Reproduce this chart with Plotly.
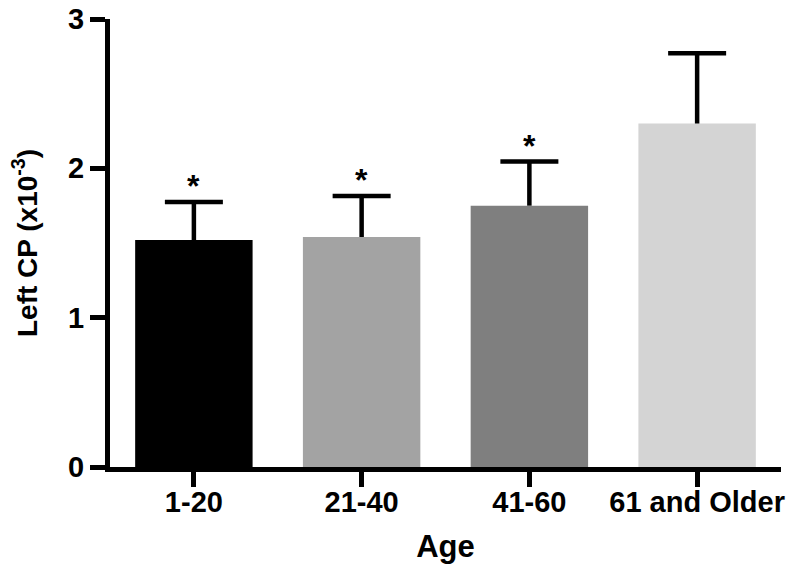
import plotly.graph_objects as go

categories = ["1-20", "21-40", "41-60", "61 and Older"]
means = [1.52, 1.54, 1.75, 2.30]
errors = [0.255, 0.275, 0.295, 0.47]
colors = ["#000000", "#a3a3a3", "#7f7f7f", "#d4d4d4"]
significant = [True, True, True, False]

FONT = "Liberation Sans, Arial, sans-serif"
tops = [m + e for m, e in zip(means, errors)]

fig = go.Figure()
# bars with the upward stem of the error bar (no caps)
fig.add_trace(go.Bar(
    x=categories,
    y=means,
    marker=dict(color=colors, line=dict(width=0)),
    width=0.7,
    error_y=dict(type="data", symmetric=False, array=errors,
                 arrayminus=[0] * len(errors), color="black",
                 thickness=4.5, width=0),
    showlegend=False,
    hoverinfo="skip",
))
# caps only at the top of each error bar
fig.add_trace(go.Scatter(
    x=categories,
    y=tops,
    mode="markers",
    marker=dict(size=1, color="rgba(0,0,0,0)"),
    error_y=dict(type="data", symmetric=True, array=[0] * len(tops),
                 color="black", thickness=4.5, width=29),
    showlegend=False,
    hoverinfo="skip",
))

for cat, t, s in zip(categories, tops, significant):
    if s:
        fig.add_annotation(x=cat, y=t, text="*", showarrow=False,
                           yanchor="bottom", yshift=-4,
                           font=dict(family=FONT, size=32, color="black", weight="bold"))

fig.update_layout(
    width=799, height=576,
    margin=dict(l=110, r=18, t=19, b=109),
    plot_bgcolor="white", paper_bgcolor="white",
    font=dict(family=FONT, color="black"),
    bargap=0.3,
)
fig.update_xaxes(
    range=[-0.5, 3.5],
    automargin=False,
    showline=True, linecolor="black", linewidth=5,
    ticks="outside", ticklen=15, tickwidth=5, tickcolor="black",
    ticklabelstandoff=-10,
    tickfont=dict(family=FONT, size=29, color="black", weight="bold"),
    title=dict(text="Age", font=dict(family=FONT, size=31, color="black", weight="bold"), standoff=20),
    showgrid=False, zeroline=False,
)
fig.update_yaxes(
    range=[0, 3],
    automargin=False,
    tickvals=[0, 1, 2, 3],
    showline=True, linecolor="black", linewidth=5,
    ticks="outside", ticklen=15, tickwidth=5, tickcolor="black",
    tickfont=dict(family=FONT, size=29, color="black", weight="bold"),
    title=dict(text="Left CP (x10<sup>-3</sup>)",
               font=dict(family=FONT, size=28, color="black", weight="bold"), standoff=24),
    showgrid=False, zeroline=False,
)

fig.write_html("out.html", config={"displayModeBar": False},
               post_script="document.body.style.margin='0';")
